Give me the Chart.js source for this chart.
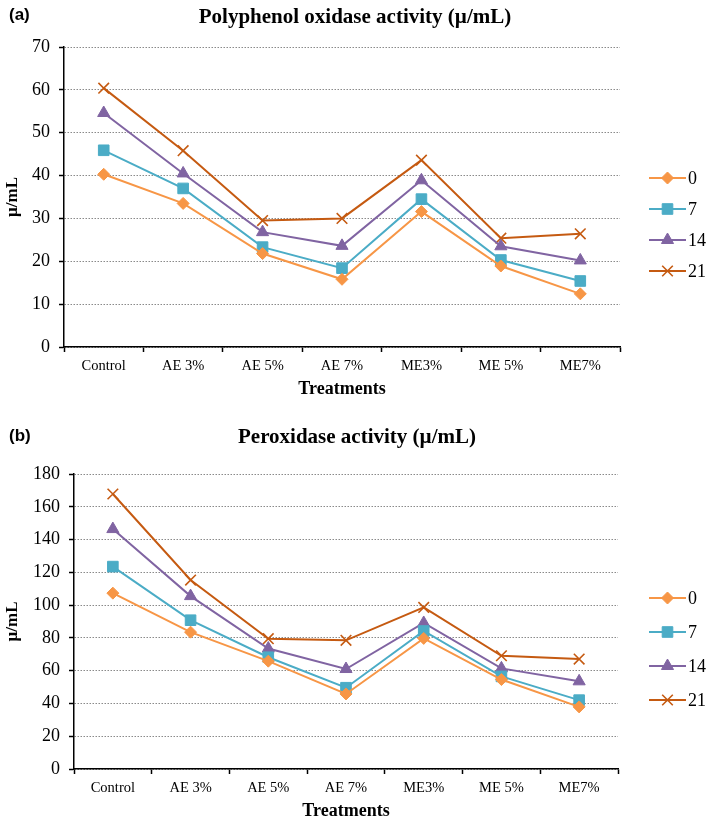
<!DOCTYPE html>
<html>
<head>
<meta charset="utf-8">
<script src="https://cdn.jsdelivr.net/npm/chart.js@4.4.1/dist/chart.umd.min.js"></script>
<style>
  body { margin: 0; background: #fff; width: 709px; height: 822px; position: relative; overflow: hidden; }
  canvas { position: absolute; left: 0; }
  .tag { position: absolute; font: bold 17px 'Liberation Sans', Arial, sans-serif; color: #000; z-index: 2; }
  .ttl { position: absolute; font: bold 21px 'Liberation Serif', serif; color: #000; transform: translateX(-50%); white-space: nowrap; z-index: 2; }
</style>
</head>
<body>

<canvas id="ppoChart" width="709" height="400" style="top:0"></canvas>
<canvas id="podChart" width="709" height="422" style="top:400px"></canvas>

<div class="tag" style="left:9px;top:5px">(a)</div>
<div class="ttl" style="left:355px;top:4px">Polyphenol oxidase activity (µ/mL)</div>
<div class="tag" style="left:9px;top:426px">(b)</div>
<div class="ttl" style="left:357px;top:424px">Peroxidase activity (µ/mL)</div>

<script>
// treatments on the x axis
const treatments = ["Control", "AE 3%", "AE 5%", "AE 7%", "ME3%", "ME 5%", "ME7%"];
// storage days (legend)
const days = ["0", "7", "14", "21"];

// (a) polyphenol oxidase, µ/mL
const ppoDay0  = [40.3, 33.5, 21.8, 15.8, 31.6, 18.9, 12.4];
const ppoDay7  = [45.9, 37.0, 23.3, 18.4, 34.5, 20.3, 15.4];
const ppoDay14 = [54.6, 40.5, 26.8, 23.6, 38.9, 23.5, 20.2];
const ppoDay21 = [60.4, 45.8, 29.5, 30.0, 43.6, 25.4, 26.4];

// (b) peroxidase, µ/mL
const podDay0  = [107.3, 83.5, 65.8, 45.8, 79.7, 54.6, 37.9];
const podDay7  = [123.5, 90.8, 68.2, 49.6, 84.2, 56.5, 42.0];
const podDay14 = [146.4, 105.5, 73.5, 61.0, 89.1, 61.4, 53.5];
const podDay21 = [167.8, 115.3, 79.5, 78.5, 98.6, 69.1, 67.1];

const serif = "'Liberation Serif', 'Times New Roman', serif";

const looks = [
  { color: "#f79646", style: "rectRot",  r: 6 },
  { color: "#4bacc6", style: "rect",     r: 7.5 },
  { color: "#8064a2", style: "triangle", r: 7 },
  { color: "#c55a11", style: "crossRot", r: 7.5 }
];

// legend: short line with the marker in the middle, then the label
const lineLegend = {
  id: "lineLegend",
  afterDraw(chart, args, opts) {
    const ctx = chart.ctx;
    chart.data.datasets.forEach((ds, i) => {
      const y = opts.top + i * opts.gap;
      ctx.save();
      ctx.strokeStyle = ds.borderColor;
      ctx.fillStyle = ds.borderColor;
      ctx.lineWidth = ds.borderWidth;
      ctx.beginPath();
      ctx.moveTo(opts.x, y);
      ctx.lineTo(opts.x + 37, y);
      ctx.stroke();
      ctx.lineWidth = ds.pointBorderWidth;
      Chart.helpers.drawPoint(ctx, {
        pointStyle: ds.pointStyle, radius: ds.pointRadius,
        borderWidth: ds.pointBorderWidth, rotation: 0
      }, opts.x + 18.5, y);
      ctx.fillStyle = "#000";
      ctx.font = "18px " + serif;
      ctx.textBaseline = "middle";
      ctx.fillText(ds.label, opts.x + 39, y + 1);
      ctx.restore();
    });
  }
};

function makeChart(id, series, yMax, step, area) {
  const datasets = series.map((vals, i) => ({
    label: days[i],
    data: vals,
    borderColor: looks[i].color,
    backgroundColor: looks[i].color,
    borderWidth: 2,
    pointStyle: looks[i].style,
    pointRadius: looks[i].r,
    pointHoverRadius: looks[i].r,
    pointBorderWidth: looks[i].style === "crossRot" ? 1.6 : 1,
    pointBorderColor: looks[i].color,
    pointBackgroundColor: looks[i].color,
    tension: 0,
    fill: false
  }));

  return new Chart(document.getElementById(id), {
    type: "line",
    data: { labels: treatments, datasets: datasets },
    plugins: [lineLegend],
    options: {
      responsive: false,
      animation: false,
      layout: { padding: { top: area.top, right: area.right, left: 0, bottom: 0 } },
      plugins: {
        legend: { display: false },
        title: { display: false },
        tooltip: { enabled: false },
        lineLegend: { x: 649, top: area.legTop, gap: area.legGap }
      },
      scales: {
        x: {
          offset: true,
          grid: { offset: true, drawOnChartArea: false, drawTicks: true, tickLength: 5, tickColor: "#000", tickWidth: 1.5 },
          border: { color: "#000", width: 1.5 },
          ticks: { font: { family: serif, size: 14.5 }, color: "#000", padding: 5, maxRotation: 0, autoSkip: false },
          title: { display: true, text: "Treatments", color: "#000",
                   font: { family: serif, size: 18, weight: "bold" }, padding: { top: 0, bottom: 0 } },
          afterFit(s) { s.height = area.xh; }
        },
        y: {
          min: 0, max: yMax,
          ticks: { stepSize: step, font: { family: serif, size: 18 }, color: "#000", padding: 9 },
          grid: { color: "#8a8a8a", lineWidth: 1, tickColor: "#000", tickLength: 5, tickWidth: 1.5 },
          border: { color: "#000", width: 1.5, dash: [1.5, 1.5] },
          title: { display: true, text: "µ/mL", color: "#000",
                   font: { family: serif, size: 17, weight: "bold" }, padding: { top: 2, bottom: 0 } },
          afterFit(s) { s.width = area.left; }
        }
      }
    }
  });
}

makeChart("ppoChart", [ppoDay0, ppoDay7, ppoDay14, ppoDay21], 70, 10,
  { top: 47, right: 89, left: 64, xh: 53, legTop: 178, legGap: 31 });

makeChart("podChart", [podDay0, podDay7, podDay14, podDay21], 180, 20,
  { top: 74, right: 91, left: 74, xh: 53, legTop: 198, legGap: 34 });
</script>
</body>
</html>
